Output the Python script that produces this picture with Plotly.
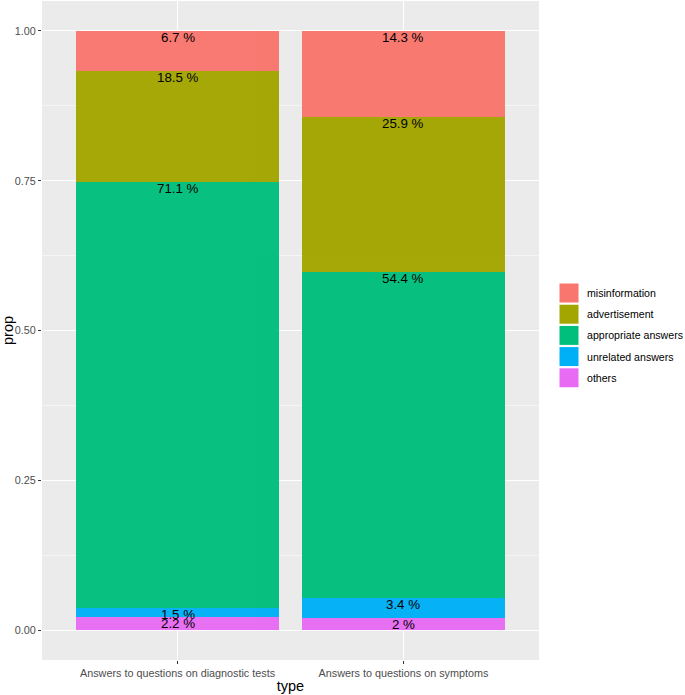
import plotly.graph_objects as go

types = ["Answers to questions on diagnostic tests", "Answers to questions on symptoms"]
# stacking order bottom -> top
groups = ["others", "unrelated answers", "appropriate answers", "advertisement", "misinformation"]
pct = {
    "others": [2.2, 2.0],
    "unrelated answers": [1.5, 3.4],
    "appropriate answers": [71.1, 54.4],
    "advertisement": [18.5, 25.9],
    "misinformation": [6.7, 14.3],
}
colors = {
    "misinformation": "#F8766D",
    "advertisement": "#A3A500",
    "appropriate answers": "#00BF7D",
    "unrelated answers": "#00B0F6",
    "others": "#E76BF3",
}
legend_order = ["misinformation", "advertisement", "appropriate answers", "unrelated answers", "others"]

FONT = "Liberation Sans, Arial, sans-serif"
W, H = 685, 695
ML, MR, MT, MB = 42, 146, 1, 35
PW, PH = W - ML - MR, H - MT - MB

def px_x(x):
    return (x - ML) / PW

def px_y(y):
    return (H - MB - y) / PH

fig = go.Figure()
xs = [1, 2]
cum = [0.0, 0.0]
annotations = []
for g in groups:
    vals = [v / 100 for v in pct[g]]
    fig.add_trace(go.Bar(
        x=xs, y=vals, name=g, width=0.9,
        marker=dict(color=colors[g], line=dict(width=0)),
        opacity=0.97, showlegend=False, hoverinfo="skip",
    ))
    for i in range(2):
        cum[i] += vals[i]
        lab = f"{pct[g][i]:g} %"
        annotations.append(dict(
            x=xs[i], y=cum[i], xref="x", yref="y", text=lab, showarrow=False,
            yanchor="top", xanchor="center", yshift=3,
            font=dict(family=FONT, size=13.3, color="black"),
        ))

# ggplot-like legend with square keys
shapes = []
for k, g in enumerate(legend_order):
    ytop = 283 + k * 21.2
    shapes.append(dict(type="rect", xref="paper", yref="paper",
                       x0=px_x(559), x1=px_x(579),
                       y0=px_y(ytop + 20), y1=px_y(ytop),
                       fillcolor=colors[g], line=dict(width=1, color="white"), layer="above"))
    annotations.append(dict(
        x=px_x(586), y=px_y(ytop + 10),
        xref="paper", yref="paper", text=g, showarrow=False,
        xanchor="left", yanchor="middle", xshift=-1,
        font=dict(family=FONT, size=10.6, color="black"),
    ))

fig.update_layout(
    barmode="stack",
    width=W, height=H,
    margin=dict(l=ML, r=MR, t=MT, b=MB),
    paper_bgcolor="white",
    plot_bgcolor="#EBEBEB",
    showlegend=False,
    font=dict(family=FONT),
    annotations=annotations,
    shapes=shapes,
    xaxis=dict(
        range=[0.4, 2.6], tickvals=xs, ticktext=types,
        showgrid=True, gridcolor="white", gridwidth=1.1, zeroline=False,
        ticks="outside", ticklen=3, tickcolor="#333333", tickwidth=1,
        tickfont=dict(family=FONT, size=10.8, color="#4D4D4D"),
        title=dict(text="type", font=dict(family=FONT, size=14.5, color="black"), standoff=2),
    ),
    yaxis=dict(
        range=[-0.05, 1.05], tickvals=[0, 0.25, 0.5, 0.75, 1.0],
        ticktext=["0.00", "0.25", "0.50", "0.75", "1.00"],
        showgrid=True, gridcolor="white", gridwidth=1.1, zeroline=False,
        ticks="outside", ticklen=3, tickcolor="#333333", tickwidth=1,
        tickfont=dict(family=FONT, size=10.8, color="#4D4D4D"),
        minor=dict(tickvals=[0.125, 0.375, 0.625, 0.875], showgrid=True, gridcolor="#F5F5F5", gridwidth=0.6, ticks=""),
        title=dict(text="prop", font=dict(family=FONT, size=14.5, color="black"), standoff=5),
    ),
)
fig.write_html("out.html", config={"displayModeBar": False},
               post_script="document.body.style.margin='0';")
